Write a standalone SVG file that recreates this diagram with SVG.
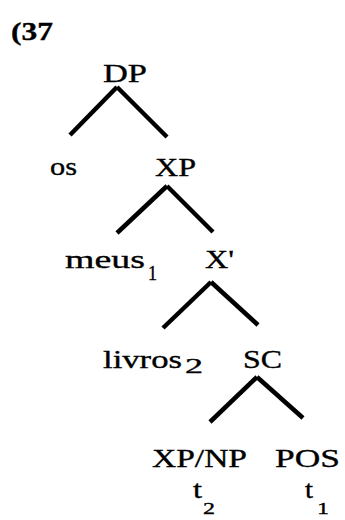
<svg xmlns="http://www.w3.org/2000/svg" width="345" height="520" viewBox="0 0 345 520">
<style>
text{font-family:"Liberation Serif","Times New Roman",serif;fill:#000;stroke:#000;stroke-width:0.35}
.n{font-size:26px}
.s{font-size:20px}
.b{font-size:17px}
.e{stroke:#000;stroke-width:4.5;stroke-linecap:butt;fill:none}
</style>
<rect width="345" height="520" fill="#fff"/>
<text class="n" x="11" y="40" textLength="42" lengthAdjust="spacingAndGlyphs" font-weight="bold">(37</text>
<g id="connectors">
<line class="e" x1="117" y1="87" x2="70" y2="135"/>
<line class="e" x1="117" y1="87" x2="167" y2="137" stroke-width="3.8"/>
<line class="e" x1="167" y1="186" x2="117" y2="233"/>
<line class="e" x1="167" y1="186" x2="213" y2="232" stroke-width="3.8"/>
<line class="e" x1="211" y1="282" x2="163" y2="328"/>
<line class="e" x1="211" y1="282" x2="258" y2="325" stroke-width="3.8"/>
<line class="e" x1="257" y1="377" x2="210" y2="422"/>
<line class="e" x1="257" y1="377" x2="303" y2="418" stroke-width="3.8"/>
</g>
<g id="DP"><text class="n" x="103" y="82" textLength="44" lengthAdjust="spacingAndGlyphs">DP</text></g>
<g id="os"><text class="n" x="50" y="175" textLength="27" lengthAdjust="spacingAndGlyphs">os</text></g>
<g id="XP"><text class="n" x="155" y="176" textLength="41" lengthAdjust="spacingAndGlyphs">XP</text></g>
<g id="meus"><text class="n" x="65" y="268" textLength="80" lengthAdjust="spacingAndGlyphs">meus</text><text class="s" x="148" y="280" textLength="9" lengthAdjust="spacingAndGlyphs">1</text></g>
<g id="Xbar"><text class="n" x="205" y="268" textLength="29" lengthAdjust="spacingAndGlyphs">X'</text></g>
<g id="livros"><text class="n" x="103" y="368" textLength="79" lengthAdjust="spacingAndGlyphs">livros</text><text class="s" x="185" y="373" textLength="18" lengthAdjust="spacingAndGlyphs">2</text></g>
<g id="SC"><text class="n" x="243" y="368" textLength="39" lengthAdjust="spacingAndGlyphs">SC</text></g>
<g id="XPNP"><text class="n" x="152" y="467" textLength="95" lengthAdjust="spacingAndGlyphs">XP/NP</text><text class="n" x="193" y="498" textLength="9" lengthAdjust="spacingAndGlyphs">t</text><text class="b" x="203" y="514" textLength="12" lengthAdjust="spacingAndGlyphs">2</text></g>
<g id="POS"><text class="n" x="275" y="467" textLength="65" lengthAdjust="spacingAndGlyphs">POS</text><text class="n" x="305" y="498" textLength="8" lengthAdjust="spacingAndGlyphs">t</text><text class="b" x="317" y="514" textLength="12" lengthAdjust="spacingAndGlyphs">1</text></g>
</svg>
